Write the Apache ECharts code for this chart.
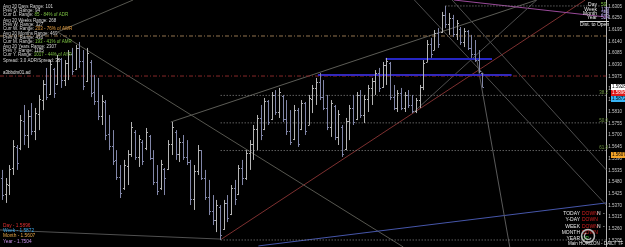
<!DOCTYPE html>
<html>
<head>
<meta charset="utf-8">
<script src="https://cdn.jsdelivr.net/npm/echarts@6.0.0/dist/echarts.min.js"></script>
<style>
html, body { margin: 0; padding: 0; background: #000; }
#chart { width: 625px; height: 247px; }
</style>
</head>
<body>
<div id="chart"></div>
<script>
// daily bars, oldest first
const opens = [
    1.5500, 1.5425, 1.5465, 1.5545, 1.5645, 1.5640, 1.5765, 1.5700, 1.5790, 1.5720,
    1.5800, 1.5865, 1.5940, 1.5895, 1.6010, 1.5940, 1.6060, 1.5960, 1.6040, 1.6080,
    1.6010, 1.6110, 1.6050, 1.5955, 1.6045, 1.5905, 1.5860, 1.5790, 1.5855, 1.5705,
    1.5650, 1.5585, 1.5505, 1.5450, 1.5555, 1.5610, 1.5715, 1.5600, 1.5670, 1.5640,
    1.5695, 1.5595, 1.5480, 1.5450, 1.5540, 1.5540, 1.5660, 1.5715, 1.5610, 1.5670,
    1.5600, 1.5575, 1.5400, 1.5530, 1.5630, 1.5500, 1.5410, 1.5345, 1.5300, 1.5365,
    1.5260, 1.5380, 1.5330, 1.5450, 1.5425, 1.5545, 1.5500, 1.5615, 1.5660, 1.5730,
    1.5780, 1.5730, 1.5860, 1.5775, 1.5890, 1.5810, 1.5885, 1.5775, 1.5720, 1.5680,
    1.5820, 1.5730, 1.5850, 1.5750, 1.5870, 1.5920, 1.5950, 1.5880, 1.5830, 1.5740,
    1.5835, 1.5690, 1.5740, 1.5635, 1.5765, 1.5830, 1.5775, 1.5890, 1.5795, 1.5870,
    1.5920, 1.5955, 1.5990, 1.5925, 1.6030, 1.6040, 1.5880, 1.5830, 1.5900, 1.5830,
    1.5890, 1.5840, 1.5815, 1.5865, 1.5925, 1.6045, 1.6130, 1.6100, 1.6180, 1.6185,
    1.6265, 1.6220, 1.6250, 1.6175, 1.6200, 1.6140, 1.6190, 1.6110, 1.6080, 1.6055,
    1.5990
];
const highs = [
    1.5537, 1.5499, 1.5560, 1.5677, 1.5654, 1.5795, 1.5842, 1.5818, 1.5851, 1.5828,
    1.5889, 1.5959, 1.6016, 1.6053, 1.6016, 1.6077, 1.6063, 1.6053, 1.6100, 1.6110,
    1.6124, 1.6138, 1.6100, 1.6110, 1.6053, 1.5983, 1.5969, 1.5889, 1.5865, 1.5795,
    1.5724, 1.5630, 1.5560, 1.5584, 1.5630, 1.5762, 1.5724, 1.5701, 1.5677, 1.5734,
    1.5701, 1.5630, 1.5560, 1.5584, 1.5546, 1.5677, 1.5762, 1.5724, 1.5687, 1.5701,
    1.5677, 1.5584, 1.5560, 1.5654, 1.5630, 1.5537, 1.5490, 1.5419, 1.5396, 1.5372,
    1.5396, 1.5419, 1.5466, 1.5490, 1.5560, 1.5584, 1.5630, 1.5677, 1.5748, 1.5795,
    1.5842, 1.5875, 1.5865, 1.5903, 1.5912, 1.5922, 1.5889, 1.5865, 1.5818, 1.5842,
    1.5828, 1.5865, 1.5856, 1.5889, 1.5936, 1.5969, 1.5992, 1.5959, 1.5889, 1.5865,
    1.5842, 1.5818, 1.5748, 1.5781, 1.5842, 1.5889, 1.5903, 1.5912, 1.5889, 1.5936,
    1.5969, 1.6006, 1.6016, 1.6044, 1.6063, 1.6044, 1.5936, 1.5912, 1.5922, 1.5903,
    1.5912, 1.5889, 1.5875, 1.5936, 1.6053, 1.6147, 1.6157, 1.6194, 1.6203, 1.6279,
    1.6307, 1.6274, 1.6265, 1.6241, 1.6208, 1.6203, 1.6194, 1.6171, 1.6147, 1.6100,
    1.5992
];
const lows = [
    1.5396, 1.5382, 1.5419, 1.5513, 1.5537, 1.5630, 1.5654, 1.5640, 1.5701, 1.5677,
    1.5724, 1.5818, 1.5865, 1.5889, 1.5875, 1.5936, 1.5922, 1.5931, 1.5959, 1.5983,
    1.6006, 1.6016, 1.5912, 1.5950, 1.5879, 1.5842, 1.5771, 1.5748, 1.5677, 1.5630,
    1.5560, 1.5490, 1.5405, 1.5443, 1.5466, 1.5598, 1.5584, 1.5551, 1.5560, 1.5630,
    1.5584, 1.5466, 1.5419, 1.5443, 1.5419, 1.5537, 1.5607, 1.5584, 1.5574, 1.5584,
    1.5560, 1.5372, 1.5349, 1.5513, 1.5490, 1.5396, 1.5325, 1.5278, 1.5245, 1.5208,
    1.5255, 1.5292, 1.5325, 1.5372, 1.5419, 1.5466, 1.5490, 1.5537, 1.5584, 1.5630,
    1.5677, 1.5724, 1.5748, 1.5771, 1.5795, 1.5781, 1.5762, 1.5701, 1.5654, 1.5677,
    1.5645, 1.5724, 1.5701, 1.5748, 1.5804, 1.5842, 1.5865, 1.5818, 1.5724, 1.5692,
    1.5677, 1.5654, 1.5598, 1.5630, 1.5677, 1.5748, 1.5771, 1.5781, 1.5757, 1.5809,
    1.5842, 1.5889, 1.5903, 1.5922, 1.5936, 1.5865, 1.5818, 1.5809, 1.5818, 1.5809,
    1.5828, 1.5804, 1.5804, 1.5828, 1.5912, 1.6044, 1.6063, 1.6100, 1.6110, 1.6180,
    1.6203, 1.6171, 1.6161, 1.6147, 1.6124, 1.6114, 1.6100, 1.6063, 1.6044, 1.5992,
    1.5926
];
const closes = [
    1.5420, 1.5470, 1.5540, 1.5650, 1.5570, 1.5770, 1.5700, 1.5790, 1.5720, 1.5805,
    1.5870, 1.5940, 1.5880, 1.6035, 1.5900, 1.6060, 1.5960, 1.6040, 1.6080, 1.6000,
    1.6110, 1.6050, 1.5930, 1.6085, 1.5900, 1.5860, 1.5790, 1.5860, 1.5700, 1.5650,
    1.5580, 1.5505, 1.5430, 1.5560, 1.5610, 1.5740, 1.5600, 1.5680, 1.5580, 1.5715,
    1.5595, 1.5480, 1.5440, 1.5565, 1.5500, 1.5660, 1.5740, 1.5610, 1.5670, 1.5600,
    1.5575, 1.5400, 1.5530, 1.5630, 1.5500, 1.5410, 1.5345, 1.5300, 1.5370, 1.5230,
    1.5380, 1.5310, 1.5450, 1.5400, 1.5545, 1.5500, 1.5615, 1.5660, 1.5730, 1.5780,
    1.5700, 1.5860, 1.5760, 1.5890, 1.5810, 1.5905, 1.5775, 1.5720, 1.5670, 1.5820,
    1.5660, 1.5850, 1.5720, 1.5875, 1.5920, 1.5950, 1.5880, 1.5830, 1.5740, 1.5850,
    1.5690, 1.5800, 1.5610, 1.5765, 1.5830, 1.5760, 1.5890, 1.5795, 1.5870, 1.5920,
    1.5955, 1.5990, 1.5920, 1.6030, 1.6050, 1.5880, 1.5830, 1.5900, 1.5830, 1.5890,
    1.5840, 1.5815, 1.5865, 1.5925, 1.6040, 1.6130, 1.6080, 1.6180, 1.6130, 1.6265,
    1.6220, 1.6250, 1.6175, 1.6225, 1.6140, 1.6190, 1.6110, 1.6080, 1.6055, 1.6000,
    1.5928
];

// bar slots on the chart (the right part is the chart shift, left empty)
const slotCount = 164;

const priceLabels = [
    '1.6305', '1.6250', '1.6195', '1.6140', '1.6085', '1.6030', '1.5975', '1.5920',
    '1.5865', '1.5810', '1.5755', '1.5700', '1.5645', '1.5590', '1.5535', '1.5480',
    '1.5425', '1.5370', '1.5315', '1.5260', '1.5205'
];

const lastPrice = 1.5928;
const pivotNames = ['Day', 'Week', 'Month', 'Year'];
const pivotValues = [1.5896, 1.5872, 1.5607, 1.7504];

// fibo retracement between the swing low (bar 59) and swing high (bar 120)
const fibLow = { bar: 59.2, price: 1.5208 };
const fibHigh = { bar: 120, price: 1.6307 };
const fibNames = ['38.2', '50.0', '61.8'];
const fibPrices = [1.5887, 1.5758, 1.5628];

// objects drawn on the chart, ends given as [bar, price]
const drawnLines = {
    channelTop: [[45.7, 1.5762], [144.7, 1.6335]],
    trendUp: [[59.4, 1.5212], [157.8, 1.6335]],
    magenta: [[122.3, 1.6335], [163.5, 1.6255]],
    fanDown: [[15.1, 1.6185], [108.6, 1.5175]],
    fanUp: [[15.1, 1.6185], [35.5, 1.6335]],
    baseLeft: [[-0.5, 1.5255], [59.4, 1.5212]],
    blueBase: [[69.4, 1.5180], [163.5, 1.5382]],
    rightDown1: [[111.6, 1.6335], [163.5, 1.5372]],
    rightDown2: [[121.8, 1.6335], [163.5, 1.5537]],
    steep: [[128.5, 1.6053], [137.4, 1.5175]],
    rightUp: [[111.1, 1.5804], [144.7, 1.6335]],
    tanLevel: [[-0.5, 1.6166], [163.5, 1.6166]],
    redLevel: [[-0.5, 1.5978], [163.5, 1.5978]],
    blueUpper: [[103.8, 1.6058], [132.6, 1.6058]],
    blueLower: [[85.5, 1.5983], [137.9, 1.5983]]
};

const lineStyles = {
    channelTop: { color: '#5c5c56', width: 1 },
    trendUp: { color: '#7e3030', width: 1 },
    magenta: { color: '#9a4a9a', width: 1 },
    fanDown: { color: '#56564f', width: 1 },
    fanUp: { color: '#56564f', width: 1 },
    baseLeft: { color: '#505050', width: 1 },
    blueBase: { color: '#4656aa', width: 1 },
    rightDown1: { color: '#4e4e4e', width: 1 },
    rightDown2: { color: '#4e4e4e', width: 1 },
    steep: { color: '#5a5a5a', width: 1 },
    rightUp: { color: '#4e4e4e', width: 1 },
    tanLevel: { color: '#92744e', width: 1, type: [4, 2, 1, 2] },
    redLevel: { color: '#862828', width: 1, type: [4, 2, 1, 2] },
    blueUpper: { color: '#2626c4', width: 2 },
    blueLower: { color: '#3428bc', width: 2 }
};

const upColor = '#b4b4b4';
const downColor = '#8186a8';
const font = '"Liberation Sans", Arial, sans-serif';

const chart = echarts.init(document.getElementById('chart'));

const barData = opens.map((o, i) => [i, o, highs[i], lows[i], closes[i]]);

function renderBar(params, api) {
    const i = api.value(0);
    const o = api.coord([i, api.value(1)]);
    const h = api.coord([i, api.value(2)]);
    const l = api.coord([i, api.value(3)]);
    const c = api.coord([i, api.value(4)]);
    const x = Math.round(h[0]) + 0.5;
    const color = api.value(4) >= api.value(1) ? upColor : downColor;
    const yo = Math.round(o[1]) + 0.5;
    const yc = Math.round(c[1]) + 0.5;
    const st = { stroke: color, lineWidth: 1 };
    return {
        type: 'group',
        children: [
            { type: 'line', shape: { x1: x, y1: h[1], x2: x, y2: l[1] }, style: st },
            { type: 'line', shape: { x1: x - 1.5, y1: yo, x2: x, y2: yo }, style: st },
            { type: 'line', shape: { x1: x, y1: yc, x2: x + 1.5, y2: yc }, style: st }
        ]
    };
}

function lineSeries(points, style) {
    return {
        type: 'line',
        data: points,
        symbol: 'none',
        silent: true,
        clip: true,
        animation: false,
        z: 1,
        lineStyle: { color: style.color, width: style.width, type: style.type || 'solid' }
    };
}

const series = [];
Object.keys(drawnLines).forEach(k => series.push(lineSeries(drawnLines[k], lineStyles[k])));

const fibStyle = { color: '#8c8c8c', width: 1, type: [1, 2] };
series.push(lineSeries([[fibLow.bar, fibLow.price], [slotCount - 0.5, fibLow.price]], fibStyle));
series.push(lineSeries([[fibHigh.bar, fibHigh.price], [slotCount - 0.5, fibHigh.price]], fibStyle));
fibPrices.forEach(p => series.push(lineSeries([[fibLow.bar, p], [slotCount - 0.5, p]], fibStyle)));

series.push({
    type: 'custom',
    renderItem: renderBar,
    data: barData,
    encode: { x: 0, y: [2, 3] },
    clip: true,
    silent: true,
    animation: false,
    z: 3
});

chart.setOption({
    backgroundColor: '#000000',
    animation: false,
    grid: { left: 0, right: 15, top: 0, bottom: 0 },
    xAxis: { type: 'value', min: -0.5, max: slotCount - 0.5, show: false },
    yAxis: {
        type: 'value',
        position: 'right',
        min: 1.5175,
        max: 1.6335,
        interval: 0.0005,
        axisLine: { show: true, onZero: false, lineStyle: { color: '#b4b4b4', width: 1 } },
        axisTick: { show: false },
        splitLine: { show: false },
        axisLabel: {
            color: '#c8c8c8',
            fontSize: 4.5,
            fontFamily: font,
            margin: 2,
            formatter: v => (priceLabels.indexOf(v.toFixed(4)) >= 0 ? v.toFixed(4) : '')
        }
    },
    series: series
});

function txt(x, y, text, fill, size, align, z) {
    return {
        type: 'text', x: x, y: y, silent: true, z: z || 10,
        style: {
            text: text, fill: fill,
            font: size + 'px ' + font,
            textAlign: align || 'left', align: align || 'left',
            textVerticalAlign: 'middle', verticalAlign: 'middle'
        }
    };
}

function richTxt(x, y, head, tail, tailColor, size) {
    return {
        type: 'text', x: x, y: y, silent: true, z: 10,
        style: {
            text: '{w|' + head + '}{c|' + tail + '}',
            font: size + 'px ' + font,
            verticalAlign: 'middle', textVerticalAlign: 'middle',
            rich: {
                w: { fill: '#d8d8d8', fontSize: size, fontFamily: font },
                c: { fill: tailColor, fontSize: size, fontFamily: font }
            }
        }
    };
}

const g = [];
const green = '#7cc242';
const orange = '#e8a040';

// range statistics (top left)
const statLines = [
    ['Avg 20 Days Range: 101', '', ''],
    ['Prev D. Range: 94', '', ''],
    ['Curr D. Range: ', '85 - 84% of ADR', green],
    ['Avg 20 Weeks Range: 268', '', ''],
    ['Prev W. Range: 327', '', ''],
    ['Curr W. Range: ', '203 - 76% of AWR', orange],
    ['Avg 20 Months Range: 469', '', ''],
    ['Prev M. Range: 436', '', ''],
    ['Curr M. Range: ', '193 - 41% of AMR', green],
    ['Avg 20 Years Range: 2307', '', ''],
    ['Prev Y. Range: 1105', '', ''],
    ['Curr Y. Range: ', '1017 - 44% of AYR', green],
    ['Spread: 3.0 ADR/Spread: 33', '', '']
];
const statY = [7, 11, 15, 21, 25, 29, 34, 38, 42, 47, 51, 55, 61];
statLines.forEach((s, i) => {
    if (s[1]) g.push(richTxt(3, statY[i], s[0], s[1], s[2], 4.5));
    else g.push(txt(3, statY[i], s[0], '#d8d8d8', 4.5));
});
g.push(txt(3, 73, 'a3bbdm01.ad', '#e0e0e0', 4.5));

// ranges in pips (top right)
const rangeNames = ['Day', 'Week', 'Month', 'Year'];
const rangeValues = ['59', '129', '258', '524'];
const rangeY = [5, 10, 14, 18];
rangeNames.forEach((n, i) => {
    g.push(txt(597, rangeY[i], n, '#e8e8e8', 5, 'right'));
    g.push(txt(601, rangeY[i], rangeValues[i], i === 0 ? green : '#b4a4e8', 5));
});
g.push({ type: 'line', silent: true, z: 10, shape: { x1: 580, y1: 21.5, x2: 609, y2: 21.5 }, style: { stroke: '#d0d0d0', lineWidth: 1 } });
g.push(txt(580, 25, 'Dist. to Open', '#e8e8e8', 5));

// pivot list (bottom left)
const pivotColors = ['#e03030', '#40a8e8', '#e8a848', '#c890e8'];
const pivotY = [226, 231, 236, 242];
pivotNames.forEach((n, i) => {
    g.push(txt(3, pivotY[i], n + ' - ' + pivotValues[i].toFixed(4), pivotColors[i], 4.8));
});

// trend table (bottom right)
const trendNames = ['TODAY', 'Y-DAY', 'WEEK', 'MONTH', 'YEAR'];
const trendValues = ['DOWN', 'DOWN', 'DOWN', 'DOWN', 'UP'];
const trendY = [214, 220, 227, 233, 239];
trendNames.forEach((n, i) => {
    g.push(txt(580, trendY[i], n, '#e8e8e8', 5, 'right'));
    g.push(txt(582, trendY[i], trendValues[i], trendValues[i] === 'UP' ? '#40c040' : '#d82020', 5));
    if (i === 0 || i === 2) {
        g.push(txt(597, trendY[i], 'N', '#e8e8e8', 5));
        g.push(txt(603, trendY[i], '-', '#e8e8e8', 5));
    }
});
g.push({ type: 'circle', silent: true, z: 11, shape: { cx: 588, cy: 236, r: 6.5 }, style: { fill: 'none', stroke: '#b8b8b8', lineWidth: 1.5 } });
g.push({ type: 'arc', silent: true, z: 11, shape: { cx: 588, cy: 236, r: 3.5, startAngle: 0.5, endAngle: 4.2 }, style: { fill: 'none', stroke: '#b8b8b8', lineWidth: 1.2 } });
g.push(txt(568, 244, 'Main HORIZON - DAILY TF', '#e8e8e8', 4.5));

// fibo level names, just left of the price scale
const yOf = p => chart.convertToPixel({ yAxisIndex: 0 }, p);
fibPrices.forEach((p, i) => g.push(txt(608, yOf(p) - 2.5, fibNames[i], '#6e9440', 4.5, 'right')));

// price boxes on the scale
const boxes = [
    [lastPrice, '#ffffff', '#000000'],
    [pivotValues[0], '#e01818', '#ffffff'],
    [pivotValues[1], '#38b4f4', '#000000'],
    [pivotValues[2], '#f4a428', '#000000']
];
boxes.forEach(b => {
    const y = Math.round(yOf(b[0]));
    g.push({ type: 'rect', silent: true, z: 12, shape: { x: 611, y: y - 3, width: 14, height: 6 }, style: { fill: b[1] } });
    g.push(txt(612, y, b[0].toFixed(4), b[2], 4.5, 'left', 13));
});

chart.setOption({ graphic: { elements: g } });
</script>
</body>
</html>
